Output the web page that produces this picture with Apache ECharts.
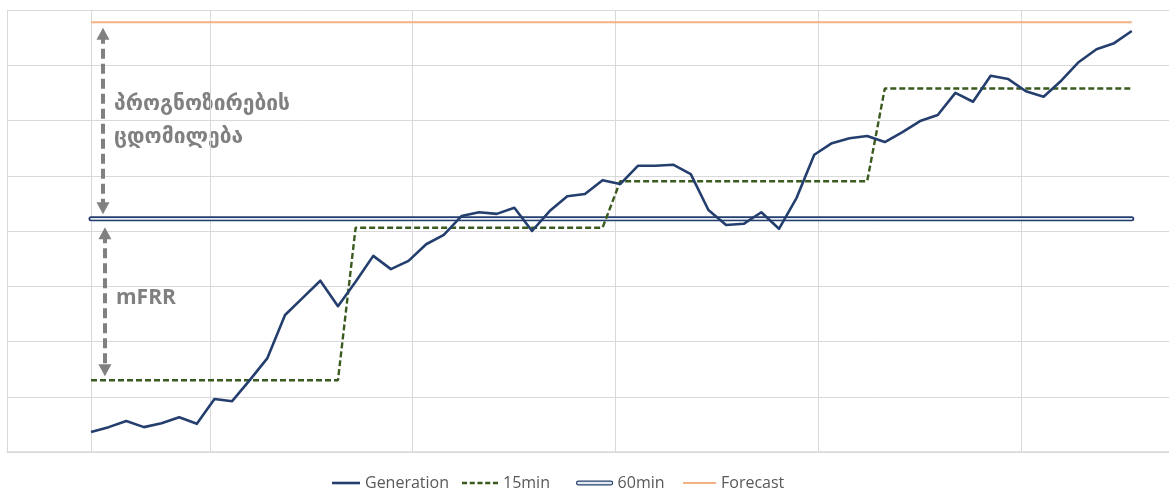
<!DOCTYPE html>
<html>
<head>
<meta charset="utf-8">
<script src="https://cdn.jsdelivr.net/npm/echarts@6/dist/echarts.min.js"></script>
<style>
  html, body { margin: 0; padding: 0; background: #ffffff; }
  #chart { width: 1169px; height: 491px; }
</style>
</head>
<body>
<div id="chart"></div>
<script>
// Minute of the hour for each generation sample
const minute = [0, 1, 2, 3, 4, 5, 6, 7, 8, 9, 10, 11, 12, 13, 14, 15, 16, 17, 18, 19,
                20, 21, 22, 23, 24, 25, 26, 27, 28, 29, 30, 31, 32, 33, 34, 35, 36, 37, 38, 39,
                40, 41, 42, 43, 44, 45, 46, 47, 48, 49, 50, 51, 52, 53, 54, 55, 56, 57, 58, 59];

// Actual generation, one value per minute
const generation = [3.6, 4.5, 5.6, 4.5, 5.2, 6.3, 5.1, 9.6, 9.2, 13.0,
                    17.0, 24.8, 27.9, 31.0, 26.4, 30.8, 35.5, 33.1, 34.6, 37.6,
                    39.3, 42.7, 43.4, 43.1, 44.2, 40.0, 43.6, 46.3, 46.7, 49.2,
                    48.5, 51.8, 51.8, 52.0, 50.3, 43.8, 41.1, 41.3, 43.4, 40.4,
                    46.0, 53.8, 55.9, 56.8, 57.2, 56.1, 57.9, 59.9, 61.0, 65.0,
                    63.4, 68.1, 67.5, 65.3, 64.3, 67.2, 70.6, 72.9, 74.0, 76.2];

// 15-minute schedule: corner points of the stepped profile [minute, value]
const quarterSchedule = [[0, 13.0], [14, 13.0], [15, 40.6], [29, 40.6],
                         [30, 49.0], [44, 49.0], [45, 65.8], [59, 65.8]];

// Hourly schedule and forecast levels
const hourlySchedule = [[0, 42.2], [59, 42.2]];
const forecast = [[0, 77.8], [59, 77.8]];

// Double-headed dimension arrows: [minute, from, to]
const forecastErrorSpan = [0.68, 75.7, 44.1];
const mfrrSpan = [0.79, 39.6, 14.8];

const navy = '#243f6e';
const green = '#3a5a1e';
const orange = '#f4b183';
const grey = '#808080';
const gridGrey = '#d9d9d9';

const generationData = minute.map((m, i) => [m, generation[i]]);

const chart = echarts.init(document.getElementById('chart'), null, { renderer: 'canvas' });

const legendText = { fontFamily: 'Open Sans', fontSize: 16, color: '#595959' };
function legendItem(left, itemWidth, entry) {
  return {
    left: left, top: 470, padding: 5,
    itemWidth: itemWidth, itemHeight: 14,
    selectedMode: false,
    textStyle: legendText,
    data: [entry]
  };
}

const option = {
  animation: false,
  backgroundColor: '#ffffff',
  grid: { left: 7, top: 10, right: 0, bottom: 39, show: false, containLabel: false },
  xAxis: {
    type: 'value',
    min: -4.762, max: 61.11, interval: 11.5,
    axisLine: { show: true, lineStyle: { color: gridGrey, width: 1.5 } },
    axisTick: { show: false },
    axisLabel: { show: false },
    splitLine: { show: true, lineStyle: { color: gridGrey, width: 1 } }
  },
  yAxis: {
    type: 'value',
    min: 0, max: 80, interval: 10,
    axisLine: { show: true, lineStyle: { color: gridGrey, width: 1 } },
    axisTick: { show: false },
    axisLabel: { show: false },
    splitLine: { show: true, lineStyle: { color: gridGrey, width: 1 } }
  },
  legend: [
    legendItem(327, 28, {
      name: 'Generation',
      icon: 'path://M0,0H28V2.6H0Z',
      itemStyle: { color: navy, borderWidth: 0 }
    }),
    legendItem(457, 36, {
      name: '15min',
      icon: 'path://M0,0H5V2.4H0Z M7.6,0H12.6V2.4H7.6Z M15.2,0H20.2V2.4H15.2Z M22.8,0H27.8V2.4H22.8Z M30.4,0H35.4V2.4H30.4Z',
      itemStyle: { color: green, borderWidth: 0 }
    }),
    legendItem(571, 36, {
      name: '60min',
      icon: 'path://M2,0 H38 A2,2 0 0 1 38,4 H2 A2,2 0 0 1 2,0 Z',
      itemStyle: { color: '#e4e9f2', borderColor: navy, borderWidth: 1.2 }
    }),
    legendItem(678, 33, {
      name: 'Forecast',
      icon: 'path://M0,0H33V2H0Z',
      itemStyle: { color: orange, borderWidth: 0 }
    })
  ],
  series: [
    {
      name: 'Forecast', type: 'line', data: forecast, symbol: 'none',
      lineStyle: { color: orange, width: 2 }, itemStyle: { color: orange },
      silent: true, z: 3
    },
    {
      name: '60min', type: 'line', data: hourlySchedule, symbol: 'none',
      lineStyle: { color: navy, width: 5, cap: 'round' }, itemStyle: { color: navy },
      silent: true, z: 3
    },
    {
      name: '60min', type: 'line', data: hourlySchedule, symbol: 'none',
      lineStyle: { color: '#e8edf5', width: 1.6, cap: 'round' }, itemStyle: { color: '#e8edf5' },
      silent: true, z: 4
    },
    {
      name: '15min', type: 'line', data: quarterSchedule, symbol: 'none',
      lineStyle: { color: green, width: 2.4, type: [6, 3] }, itemStyle: { color: green },
      silent: true, z: 5
    },
    {
      name: 'Generation', type: 'line', data: generationData, symbol: 'none',
      lineStyle: { color: navy, width: 2.6, join: 'round' }, itemStyle: { color: navy },
      silent: true, z: 6
    },
    {
      name: 'dimensions', type: 'line', data: [], silent: true, z: 7,
      markLine: {
        silent: true,
        animation: false,
        symbol: ['triangle', 'triangle'],
        symbolSize: [13, 12],
        label: { show: false },
        lineStyle: { color: grey, width: 4, type: [10, 5] },
        itemStyle: { color: grey },
        emphasis: { disabled: true },
        data: [
          [{ coord: [forecastErrorSpan[0], forecastErrorSpan[1]] }, { coord: [forecastErrorSpan[0], forecastErrorSpan[2]] }],
          [{ coord: [mfrrSpan[0], mfrrSpan[1]] }, { coord: [mfrrSpan[0], mfrrSpan[2]] }]
        ]
      }
    }
  ],
  graphic: [
    {
      type: 'text', left: 114, top: 88, silent: true,
      style: {
        text: 'პროგნოზირების\nცდომილება',
        font: 'bold 21px "DejaVu Sans"',
        lineHeight: 33,
        fill: grey
      }
    },
    {
      type: 'text', left: 116, top: 288, silent: true,
      style: { text: 'mFRR', font: 'bold 21px "Open Sans"', fill: grey }
    }
  ]
};

chart.setOption(option);
</script>
</body>
</html>
